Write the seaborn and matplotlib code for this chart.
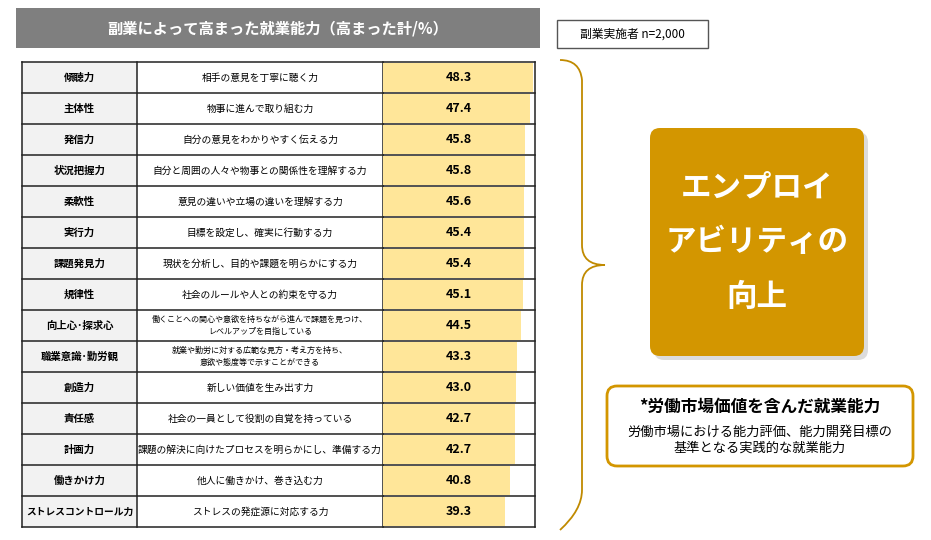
import matplotlib
matplotlib.use("Agg")
import matplotlib.pyplot as plt
from matplotlib.patches import Rectangle, FancyBboxPatch, PathPatch
from matplotlib.path import Path
import seaborn as sns
import pandas as pd

plt.rcParams["font.family"] = "Noto Sans CJK JP"

skills = ["傾聴力", "主体性", "発信力", "状況把握力", "柔軟性", "実行力", "課題発見力", "規律性",
          "向上心･探求心", "職業意識･勤労観", "創造力", "責任感", "計画力", "働きかけ力", "ストレスコントロール力"]
descriptions = ["相手の意見を丁寧に聴く力", "物事に進んで取り組む力", "自分の意見をわかりやすく伝える力",
                "自分と周囲の人々や物事との関係性を理解する力", "意見の違いや立場の違いを理解する力",
                "目標を設定し、確実に行動する力", "現状を分析し、目的や課題を明らかにする力",
                "社会のルールや人との約束を守る力",
                "働くことへの関心や意欲を持ちながら進んで課題を見つけ、\nレベルアップを目指している",
                "就業や勤労に対する広範な見方・考え方を持ち、\n意欲や態度等で示すことができる",
                "新しい価値を生み出す力", "社会の一員として役割の自覚を持っている",
                "課題の解決に向けたプロセスを明らかにし、準備する力", "他人に働きかけ、巻き込む力",
                "ストレスの発症源に対応する力"]
scores = [48.3, 47.4, 45.8, 45.8, 45.6, 45.4, 45.4, 45.1, 44.5, 43.3, 43.0, 42.7, 42.7, 40.8, 39.3]

W, H = 931, 540
fig = plt.figure(figsize=(W / 100, H / 100), dpi=100)
bg = fig.add_axes([0, 0, 1, 1])
bg.set_xlim(0, W)
bg.set_ylim(H, 0)
bg.axis("off")

top, bottom = 62, 527
x0, x1, x2, x3 = 22, 137, 383, 535
n = len(skills)
rh = (bottom - top) / n

# table background + grid
bg.add_patch(Rectangle((x0, top), x1 - x0, bottom - top, fc="#F2F2F2", ec="none"))
for i in range(n + 1):
    y = top + i * rh
    bg.plot([x0, x3], [y, y], color="#222222", lw=1.1)
for x in (x0, x1, x2, x3):
    bg.plot([x, x], [top, bottom], color="#222222", lw=1.1)
for i in range(n):
    yc = top + (i + 0.5) * rh
    bg.text((x0 + x1) / 2, yc, skills[i], ha="center", va="center",
            fontsize=7 if len(skills[i]) > 8 else 7.5, fontweight="bold")
    multi = "\n" in descriptions[i]
    bg.text((x1 + x2) / 2, yc, descriptions[i], ha="center", va="center",
            fontsize=5.8 if multi else 7, linespacing=1.4)

# bars via seaborn
df = pd.DataFrame({"skill": skills, "score": scores})
ax = fig.add_axes([x2 / W, 1 - bottom / H, (x3 - x2) / W, (bottom - top) / H])
sns.barplot(data=df, y="skill", x="score", orient="h", color="#FFE699", saturation=1,
            width=0.92, ax=ax, zorder=0)
ax.set_xlim(0, 49)
ax.set_ylim(n - 0.5, -0.5)
ax.axis("off")
ax.patch.set_alpha(0)
for i, v in enumerate(scores):
    ax.text(24.5, i, f"{v:.1f}", ha="center", va="center", fontsize=9, fontweight="bold")

# title boxes
bg.add_patch(Rectangle((16, 8), 524, 40, fc="#7F7F7F", ec="none"))
bg.text(278, 28, "副業によって高まった就業能力（高まった計/%）", ha="center", va="center",
        color="white", fontsize=11, fontweight="bold")
bg.add_patch(Rectangle((557, 20), 151, 28, fc="white", ec="#555555", lw=1))
bg.text(632, 34, "副業実施者 n=2,000", ha="center", va="center", fontsize=8.5)

# brace
bx, by0, by1, bm = 560, 60, 530, 265
verts = [(bx, by0), (bx + 20, by0), (bx + 22, by0 + 20), (bx + 22, by0 + 40),
         (bx + 22, bm - 20), (bx + 22, bm), (bx + 45, bm),
         (bx + 22, bm), (bx + 22, bm + 20), (bx + 22, bm + 40),
         (bx + 22, by1 - 40), (bx + 22, by1 - 20), (bx, by1)]
codes = [Path.MOVETO, Path.CURVE3, Path.CURVE3, Path.LINETO, Path.LINETO,
         Path.CURVE3, Path.CURVE3, Path.CURVE3, Path.CURVE3, Path.LINETO,
         Path.LINETO, Path.CURVE3, Path.CURVE3]
bg.add_patch(PathPatch(Path(verts, codes), fc="none", ec="#C08A00", lw=1.3))

# gold box with soft shadow
bg.add_patch(FancyBboxPatch((654, 132), 214, 228, boxstyle="round,pad=0,rounding_size=10",
                            fc="#BBBBBB", ec="none", alpha=0.5))
bg.add_patch(FancyBboxPatch((650, 128), 214, 228, boxstyle="round,pad=0,rounding_size=10",
                            fc="#D39600", ec="none"))
bg.text(757, 242, "エンプロイ\nアビリティの\n向上", ha="center", va="center", color="white",
        fontsize=22, fontweight="bold", linespacing=1.9)

# note box
bg.add_patch(FancyBboxPatch((607, 386), 306, 80, boxstyle="round,pad=0,rounding_size=10",
                            fc="white", ec="#D39600", lw=2))
bg.text(760, 407, "*労働市場価値を含んだ就業能力", ha="center", va="center",
        fontsize=12, fontweight="bold")
bg.text(760, 440, "労働市場における能力評価、能力開発目標の\n基準となる実践的な就業能力",
        ha="center", va="center", fontsize=9.5, linespacing=1.3)

fig.savefig("out.png", dpi=100)
